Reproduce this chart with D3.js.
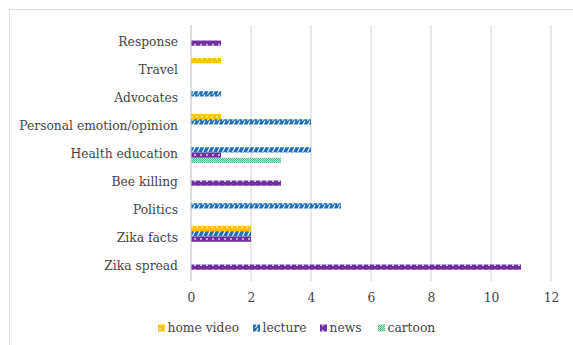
<!DOCTYPE html>
<html>
<head>
<meta charset="utf-8">
<script src="https://cdn.jsdelivr.net/npm/d3@7"></script>
<style>
  html, body { margin: 0; padding: 0; background: #fff; }
  svg { display: block; }
  text { font-family: "DejaVu Serif", serif; fill: #454545; }
</style>
</head>
<body>
<svg id="chart" width="573" height="345"></svg>
<script>
// Topics, listed bottom to top as they appear on the vertical axis
const categories = ["Zika spread", "Zika facts", "Politics", "Bee killing", "Health education",
  "Personal emotion/opinion", "Advocates", "Travel", "Response"];
const seriesNames = ["home video", "lecture", "news", "cartoon"];
const homeVideo = [0, 2, 0, 0, 0, 1, 0, 1, 0];
const lecture   = [0, 2, 5, 0, 4, 4, 1, 0, 0];
const news      = [11, 2, 0, 3, 1, 0, 0, 0, 1];
const cartoon   = [0, 0, 0, 0, 3, 0, 0, 0, 0];
const xTicks = [0, 2, 4, 6, 8, 10, 12];

const seriesValues = [homeVideo, lecture, news, cartoon];
const rows = [];
seriesNames.forEach((s, si) => {
  categories.forEach((c, ci) => {
    rows.push({ series: s, category: c, value: seriesValues[si][ci] });
  });
});

const svg = d3.select("#chart");
const plot = { left: 191, right: 551, top: 25, bottom: 281 };
const fontFamily = "DejaVu Serif, serif";
const fontSize = "12.3px";
const textColor = "#454545";

// chart frame
svg.append("path")
  .attr("d", "M9.5,345 V9.5 H573")
  .attr("fill", "none").attr("stroke", "#d9d9d9").attr("stroke-width", 1);

// fill patterns for each series
const defs = svg.append("defs");
function pat(id, w, h, build) {
  const p = defs.append("pattern").attr("id", id)
    .attr("patternUnits", "userSpaceOnUse").attr("width", w).attr("height", h);
  build(p);
}
pat("p-home", 5, 5.25, p => {
  p.append("rect").attr("width", 5).attr("height", 5.25).attr("fill", "#FFC000");
  p.append("rect").attr("x", 1).attr("y", 0.6).attr("width", 2).attr("height", 1.4).attr("fill", "#fff4cc");
  p.append("rect").attr("x", 3.5).attr("y", 3.2).attr("width", 1).attr("height", 1).attr("fill", "#ffe49a");
});
pat("p-lect", 5, 5.25, p => {
  p.append("rect").attr("width", 5).attr("height", 5.25).attr("fill", "#1F6FB8");
  p.append("path").attr("d", "M-2.5,5.25 L0,0 M2.5,5.25 L5,0 M7.5,5.25 L10,0")
    .attr("stroke", "#ffffff").attr("stroke-width", 1.1);
});
pat("p-news", 6, 5.25, p => {
  p.append("rect").attr("width", 6).attr("height", 5.25).attr("fill", "#7030A0");
  p.append("rect").attr("x", 2.2).attr("y", 2).attr("width", 1.6).attr("height", 1.4).attr("fill", "#ffffff");
});
pat("p-cart", 2, 2, p => {
  p.append("rect").attr("width", 2).attr("height", 2).attr("fill", "#b8ecd2");
  p.append("rect").attr("width", 1).attr("height", 1).attr("fill", "#45c083");
  p.append("rect").attr("x", 1).attr("y", 1).attr("width", 1).attr("height", 1).attr("fill", "#45c083");
});
const fills = { "home video": "url(#p-home)", "lecture": "url(#p-lect)", "news": "url(#p-news)", "cartoon": "url(#p-cart)" };

const x = d3.scaleLinear().domain([0, 12]).range([plot.left, plot.right]);
const y = d3.scaleBand().domain(categories.slice().reverse()).range([26.5, 278.5]);
const barH = 5.25;
const inner = d3.scaleBand().domain(seriesNames).range([-2 * barH, 2 * barH]);

// vertical gridlines
svg.append("g")
  .selectAll("line").data(xTicks.filter(t => t > 0)).join("line")
  .attr("x1", d => x(d)).attr("x2", d => x(d))
  .attr("y1", plot.top).attr("y2", plot.bottom)
  .attr("stroke", "#d9d9d9").attr("stroke-width", 1.2);

// bars
svg.append("g")
  .selectAll("rect").data(rows.filter(d => d.value > 0)).join("rect")
  .attr("x", x(0))
  .attr("y", d => y(d.category) + y.bandwidth() / 2 + inner(d.series))
  .attr("width", d => x(d.value) - x(0))
  .attr("height", barH)
  .attr("fill", d => fills[d.series]);

// category axis line
svg.append("line")
  .attr("x1", x(0)).attr("x2", x(0)).attr("y1", plot.top).attr("y2", plot.bottom)
  .attr("stroke", "#c8c8c8").attr("stroke-width", 1.2);

// category labels
const yAxis = svg.append("g").attr("transform", `translate(${x(0)},1.5)`)
  .call(d3.axisLeft(y).tickSize(0).tickPadding(13));
yAxis.select(".domain").remove();
yAxis.selectAll("text").style("font-family", fontFamily).style("font-size", fontSize).attr("fill", textColor);

// value axis labels
const xAxis = svg.append("g").attr("transform", `translate(0,${plot.bottom + 8})`)
  .call(d3.axisBottom(x).tickValues(xTicks).tickSize(0).tickPadding(4).tickFormat(d3.format("d")));
xAxis.select(".domain").remove();
xAxis.selectAll("text").style("font-family", fontFamily).style("font-size", fontSize).attr("fill", textColor);

// legend
const legendX = [158, 253, 320, 378];
const legend = svg.append("g").attr("transform", "translate(0,328)");
const items = legend.selectAll("g").data(seriesNames).join("g")
  .attr("transform", (d, i) => `translate(${legendX[i]},0)`);
items.append("rect").attr("x", 0).attr("y", -3.5).attr("width", 7).attr("height", 7)
  .attr("fill", d => fills[d]);
items.append("text").attr("x", 9.5).attr("dy", "0.35em")
  .style("font-family", fontFamily).style("font-size", fontSize)
  .attr("fill", textColor).text(d => d);
</script>
</body>
</html>
